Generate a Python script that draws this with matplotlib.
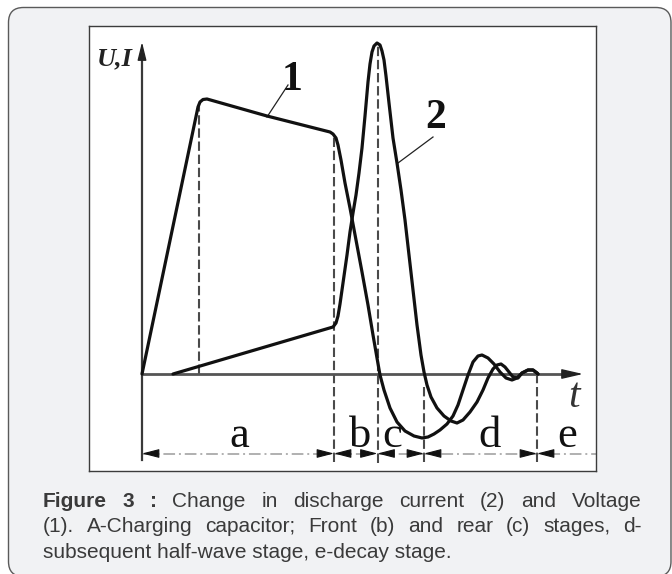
import matplotlib
matplotlib.use("Agg")
import matplotlib.pyplot as plt
from matplotlib.patches import FancyBboxPatch

# ---- waveform data (arbitrary units: time along t, amplitude along U,I) ----
voltage_t = [0, 56, 58, 61, 65, 125, 188, 191, 194, 196, 199, 203, 208, 214,
             220, 226, 231, 235, 238, 242, 248, 255, 263, 272, 280, 286, 292,
             298, 305, 311, 316, 321, 326, 331, 336, 340, 346, 352, 358, 364,
             370, 375, 380, 386, 391, 395, 396]
voltage_v = [0, 267, 272, 274.5, 275, 258, 242, 240, 236, 229, 214, 191, 166,
             134, 102, 69, 39, 16, -1, -16, -34, -48, -57, -62, -64, -63, -60,
             -56, -50, -42, -31, -16, -1, 12, 18, 19, 16, 10, 2, -4, -6, -4, 1,
             4, 4, 1, 0]

current_t = [31, 191, 194, 196, 198, 201, 205, 208, 211, 214, 217, 220, 223,
             226, 228, 230, 232, 235, 238, 240, 242, 244, 247, 251, 255, 259,
             263, 267, 271, 275, 279, 282, 285, 289, 295, 302, 309, 315, 321,
             328, 335, 341, 346, 351, 355, 359, 363, 367, 371, 376, 380, 386,
             391, 395, 396]
current_v = [0, 47, 51, 58, 70, 91, 119, 142, 161, 179, 201, 226, 258, 292,
             310, 322, 328, 331, 329, 323, 314, 298, 271, 236, 211, 184, 154,
             119, 84, 49, 19, 2, -11, -23, -34, -42, -47, -49, -46, -38, -28,
             -16, -4, 5, 9, 10, 7, 2, -3, -4, 1, 4, 4, 1, 0]

# stage boundaries and labels
stage_edges = [0, 192, 235.5, 282, 395]
stage_labels = ["a", "b", "c", "d", "e"]
stage_label_t = [97, 218, 250, 348, 425]

# dashed guide lines: position, top, bottom
guide_t = [57, 192, 235.5, 282, 395]
guide_top = [270, 240, 331, -11, 0]
guide_bottom = [0, -88, -89, -88, -88]

caption_lines = [
    [("Figure", "bold"), ("3", "bold"), (":", "bold"), ("Change", "normal"),
     ("in", "normal"), ("discharge", "normal"), ("current", "normal"),
     ("(2)", "normal"), ("and", "normal"), ("Voltage", "normal")],
    [("(1).", "normal"), ("A-Charging", "normal"), ("capacitor;", "normal"),
     ("Front", "normal"), ("(b)", "normal"), ("and", "normal"),
     ("rear", "normal"), ("(c)", "normal"), ("stages,", "normal"),
     ("d-", "normal")],
]
caption_last = "subsequent half-wave stage, e-decay stage."

W, H = 672, 574
fig = plt.figure(figsize=(W / 100, H / 100), dpi=100)
fig.patch.set_facecolor("white")

# background layer in pixel units
bg = fig.add_axes([0, 0, 1, 1])
bg.set_xlim(0, W)
bg.set_ylim(H, 0)
bg.axis("off")
panel = FancyBboxPatch((8.5, 7.5), 662.5, 569,
                       boxstyle="round,pad=0,rounding_size=15",
                       facecolor="#f1f2f4", edgecolor="#5a5a5a", lw=1.0)
bg.add_patch(panel)

# caption, justified
cap_kw = dict(family="Liberation Sans", fontsize=15, color="#3a3a3a",
              va="baseline", ha="left")
left_px, right_px = 43, 641.5
baselines = [507, 532.5, 557.5]
fig.canvas.draw()
renderer = fig.canvas.get_renderer()
for line, yb in zip(caption_lines, baselines):
    arts = [bg.text(0, yb, w, fontweight=wt, **cap_kw) for w, wt in line]
    widths = [a.get_window_extent(renderer).width for a in arts]
    gap = (right_px - left_px - sum(widths)) / (len(arts) - 1)
    x = left_px
    for a, wd in zip(arts, widths):
        a.set_x(x)
        x += wd + gap
bg.text(left_px, baselines[2], caption_last, **cap_kw)

# chart area
ax = fig.add_axes([89 / W, 1 - 471 / H, 507 / W, 445 / H])
ax.set_facecolor("white")
ax.set_xlim(-53, 454)
ax.set_ylim(-97, 348)
ax.set_xticks([])
ax.set_yticks([])
for s in ax.spines.values():
    s.set_color("#3c3c3c")
    s.set_linewidth(1.0)

# dimension line under the plot
ax.plot([0, 454], [-79.5, -79.5], color="#b0b0b0", lw=1.4,
        linestyle=(0, (6, 2, 1, 2)), zorder=1)

# guide lines
for gt, top, bot in zip(guide_t, guide_top, guide_bottom):
    ax.plot([gt, gt], [bot, top], color="#4a4a4a", lw=1.5,
            linestyle=(0, (4.5, 1.8)), zorder=2)

# axes with arrows
ax.plot([0, 428], [0, 0], color="#555555", lw=2.0, zorder=2)
ax.annotate("", xy=(441, 0), xytext=(423, 0),
            arrowprops=dict(arrowstyle="-|>,head_length=1.3,head_width=0.3",
                            mutation_scale=10, color="#222222", lw=1.0,
                            shrinkA=0, shrinkB=0))
ax.plot([0, 0], [-86, 318], color="#3a3a3a", lw=1.6, zorder=2)
ax.annotate("", xy=(0, 332), xytext=(0, 317),
            arrowprops=dict(arrowstyle="-|>,head_length=1.1,head_width=0.27",
                            mutation_scale=10, color="#222222", lw=1.0,
                            shrinkA=0, shrinkB=0))

# dimension arrows at the stage boundaries
arrow_kw = dict(arrowstyle="-|>,head_length=1.05,head_width=0.27",
                mutation_scale=10, color="#111111", lw=0.8,
                shrinkA=0, shrinkB=0)
ax.annotate("", xy=(0, -79.5), xytext=(15, -79.5), arrowprops=arrow_kw)
for e in stage_edges[1:]:
    ax.annotate("", xy=(e, -79.5), xytext=(e - 15, -79.5), arrowprops=arrow_kw)
    ax.annotate("", xy=(e, -79.5), xytext=(e + 15, -79.5), arrowprops=arrow_kw)

# waveforms
line_kw = dict(color="#111111", lw=2.3, solid_joinstyle="round",
               solid_capstyle="round", zorder=4)
ax.plot(voltage_t, voltage_v, **line_kw)
ax.plot(current_t, current_v, **line_kw)

# curve labels with leader lines
ax.plot([125, 146], [257, 289], color="#222222", lw=0.9, zorder=3)
ax.plot([256, 291], [211, 237], color="#222222", lw=0.9, zorder=3)
serif = "Liberation Serif"
ax.text(150, 284, "1", family=serif, fontsize=30, fontweight="bold",
        ha="center", va="baseline", color="#111111")
ax.text(294, 246, "2", family=serif, fontsize=30, fontweight="bold",
        ha="center", va="baseline", color="#111111")

# axis names
ax.text(-27, 309, "U,I", family=serif, fontsize=19, fontstyle="italic",
        fontweight="bold", ha="center", va="baseline", color="#222222")
ax.text(432, -33, "t", family=serif, fontsize=30, fontstyle="italic",
        ha="center", va="baseline", color="#333333")

# stage letters
for lab, lt in zip(stage_labels, stage_label_t):
    ax.text(lt, -73, lab, family=serif, fontsize=32, ha="center",
            va="baseline", color="#111111")

fig.savefig("out.png", dpi=100, facecolor="white")
